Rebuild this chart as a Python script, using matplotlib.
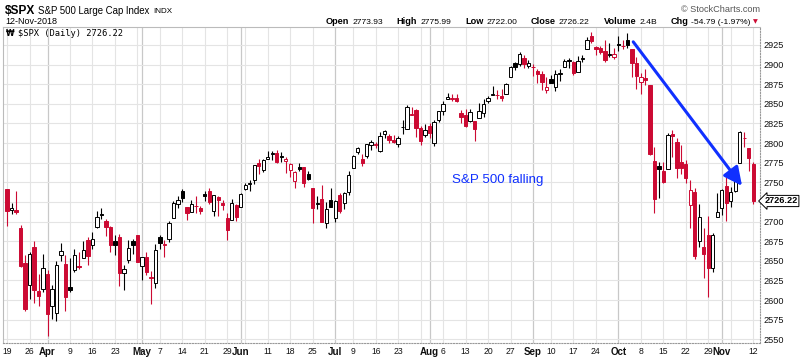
import matplotlib
matplotlib.use("Agg")
import matplotlib.pyplot as plt
import numpy as np
import pandas as pd
from matplotlib.transforms import blended_transform_factory

# ---------------- data ----------------
symbol = "$SPX"
index_name = "S&P 500 Large Cap Index"
exchange = "INDX"
date_text = "12-Nov-2018"
legend_text = "$SPX (Daily) 2726.22"
note_text = "S&P 500 falling"

start_date = "2018-03-19"
end_date = "2018-11-12"
holidays = ["2018-03-30", "2018-05-28", "2018-07-04", "2018-09-03"]
prev_close = 2752.01  # close of the session before the first bar

opens = [
    2741.38, 2715.05, 2714.99, 2691.36, 2646.71, 2619.35, 2667.57, 2611.30, 2614.41,
    2633.45, 2592.17, 2584.04, 2657.36, 2645.82, 2617.18, 2638.41, 2643.69, 2653.83, 2676.90,
    2670.10, 2692.74, 2710.11, 2701.16, 2692.56, 2675.40, 2680.80, 2634.92, 2651.65, 2675.47, 2682.51,
    2642.96, 2654.24, 2628.08, 2621.45, 2680.34, 2670.26, 2678.12, 2705.02, 2722.70, 2738.47, 2718.59,
    2712.62, 2719.71, 2717.35, 2735.39, 2738.34, 2713.98, 2730.94, 2723.60, 2705.11, 2702.43, 2720.98,
    2718.70, 2741.67, 2748.46, 2753.25, 2774.84, 2765.84, 2780.18, 2785.60, 2787.94, 2783.21, 2777.78,
    2765.79, 2752.01, 2769.73, 2769.28, 2760.79, 2742.94, 2722.12, 2728.45, 2698.69, 2727.13,
    2704.95, 2733.27, 2724.19, 2737.68, 2768.51, 2788.56, 2779.82, 2783.14, 2796.93, 2797.36, 2789.34,
    2811.35, 2809.37, 2804.55, 2799.17, 2820.68, 2817.73, 2835.49, 2842.35, 2819.00, 2809.73,
    2821.17, 2800.48, 2829.62, 2840.29, 2855.92, 2856.79, 2857.19, 2838.90, 2835.46, 2827.88, 2827.95,
    2831.44, 2838.32, 2853.93, 2861.51, 2860.99, 2860.29, 2862.35, 2884.69, 2901.45, 2900.62, 2908.94, 2898.37,
    2896.96, 2891.59, 2888.64, 2868.26, 2881.39, 2871.57, 2888.29, 2896.85, 2906.38, 2903.83, 2890.74,
    2906.60, 2919.73, 2936.76, 2921.83, 2921.75, 2916.98, 2911.65, 2910.03,
    2926.29, 2923.80, 2931.69, 2919.35, 2902.54, 2877.53, 2882.51, 2873.90, 2776.87, 2770.54, 2763.83,
    2767.05, 2811.67, 2802.00, 2775.66, 2773.94, 2721.03, 2737.87, 2674.88, 2667.86, 2682.65, 2640.68, 2705.60,
    2717.58, 2745.45, 2726.37, 2738.40, 2774.13, 2806.38, 2794.10, 2773.93,
]
highs = [
    2741.38, 2724.22, 2739.14, 2695.68, 2657.67, 2661.36, 2674.78, 2632.65, 2659.07,
    2638.30, 2619.14, 2649.86, 2672.08, 2656.88, 2653.55, 2665.45, 2661.43, 2674.72, 2680.26,
    2686.49, 2713.34, 2717.49, 2702.84, 2693.94, 2682.86, 2683.55, 2645.30, 2676.48, 2677.35, 2682.87,
    2655.27, 2660.87, 2637.14, 2670.93, 2683.35, 2676.34, 2701.27, 2726.11, 2732.86, 2742.10, 2718.59,
    2727.76, 2731.96, 2719.50, 2739.19, 2742.24, 2733.33, 2731.97, 2727.36, 2710.67, 2729.34, 2722.50,
    2736.93, 2749.16, 2752.61, 2772.39, 2779.90, 2779.39, 2790.21, 2789.80, 2791.47, 2789.06, 2782.81,
    2774.99, 2765.05, 2774.86, 2769.28, 2764.17, 2742.94, 2732.91, 2746.09, 2724.34, 2743.26,
    2727.26, 2736.58, 2737.83, 2764.41, 2784.65, 2795.58, 2785.91, 2799.22, 2804.53, 2801.19, 2814.19,
    2816.76, 2812.05, 2809.70, 2808.61, 2829.99, 2848.03, 2845.57, 2843.17, 2821.74, 2824.46,
    2825.83, 2829.91, 2840.38, 2853.29, 2863.43, 2862.44, 2862.48, 2842.20, 2843.40, 2843.11, 2827.95,
    2850.49, 2855.63, 2859.76, 2873.23, 2867.54, 2868.78, 2876.16, 2898.25, 2903.77, 2916.50, 2912.46, 2906.32,
    2900.18, 2894.21, 2892.05, 2883.81, 2886.93, 2892.52, 2894.65, 2906.76, 2908.30, 2904.65, 2911.17,
    2912.36, 2934.80, 2940.91, 2923.79, 2923.95, 2931.15, 2927.22, 2920.53,
    2937.06, 2931.42, 2939.86, 2919.78, 2909.64, 2889.45, 2894.83, 2874.02, 2795.14, 2775.77, 2775.99,
    2813.46, 2816.94, 2806.04, 2797.77, 2778.94, 2753.59, 2742.59, 2722.70, 2692.38, 2706.85, 2685.43, 2736.69,
    2741.67, 2756.55, 2744.27, 2756.82, 2815.15, 2814.75, 2794.10, 2775.99,
]
lows = [
    2694.59, 2710.05, 2709.79, 2641.59, 2585.89, 2601.81, 2596.12, 2593.06, 2609.72,
    2553.80, 2575.49, 2573.61, 2649.58, 2586.27, 2610.79, 2635.78, 2639.25, 2653.83, 2645.05,
    2665.16, 2692.05, 2703.63, 2681.90, 2660.61, 2657.99, 2617.32, 2612.67, 2647.16, 2659.01, 2648.04,
    2625.41, 2631.70, 2594.62, 2615.32, 2664.70, 2655.20, 2674.14, 2704.54, 2717.45, 2725.47, 2701.91,
    2712.17, 2711.36, 2709.18, 2725.70, 2721.88, 2707.16, 2707.38, 2714.99, 2676.81, 2702.43, 2700.68,
    2718.70, 2740.54, 2739.51, 2748.46, 2760.16, 2763.59, 2780.17, 2778.78, 2774.65, 2776.52, 2761.73,
    2757.12, 2743.19, 2763.91, 2744.39, 2752.68, 2698.67, 2715.60, 2699.38, 2691.99, 2718.03,
    2698.95, 2711.16, 2716.02, 2733.52, 2768.51, 2786.24, 2770.77, 2781.53, 2791.69, 2793.39, 2789.24,
    2805.89, 2799.77, 2800.01, 2795.14, 2811.12, 2817.73, 2835.26, 2808.34, 2798.11, 2808.06,
    2805.85, 2796.34, 2827.37, 2835.98, 2855.92, 2853.09, 2851.98, 2825.81, 2819.88, 2826.58, 2802.49,
    2831.44, 2833.73, 2850.62, 2861.32, 2856.05, 2854.03, 2862.35, 2884.69, 2893.50, 2898.40, 2895.22, 2895.77,
    2885.13, 2876.92, 2867.29, 2864.12, 2875.94, 2866.78, 2879.20, 2896.39, 2895.77, 2886.16, 2890.43,
    2903.82, 2919.73, 2927.11, 2912.63, 2913.70, 2903.28, 2909.27, 2907.50,
    2917.91, 2919.37, 2921.36, 2883.92, 2869.29, 2862.08, 2874.27, 2784.86, 2710.51, 2729.44, 2749.03,
    2766.91, 2781.81, 2755.18, 2760.27, 2749.22, 2691.43, 2651.89, 2667.84, 2628.16, 2603.54, 2635.34, 2705.60,
    2708.85, 2700.44, 2717.94, 2737.08, 2774.13, 2794.99, 2764.24, 2722.00,
]
closes = [
    2712.92, 2716.94, 2711.93, 2643.69, 2588.26, 2658.55, 2612.62, 2605.00, 2640.87,
    2581.88, 2614.45, 2644.69, 2662.84, 2604.47, 2613.16, 2656.87, 2642.19, 2663.99, 2656.30,
    2677.84, 2706.39, 2708.64, 2693.13, 2670.14, 2670.29, 2634.56, 2639.40, 2666.94, 2669.91, 2648.05,
    2654.80, 2635.67, 2629.73, 2663.42, 2672.63, 2671.92, 2697.79, 2723.07, 2727.72, 2730.13, 2711.45,
    2722.46, 2720.13, 2712.97, 2733.01, 2724.44, 2733.29, 2727.76, 2721.33, 2689.86, 2724.01, 2705.27,
    2734.62, 2746.87, 2748.80, 2772.35, 2770.37, 2779.03, 2782.00, 2786.85, 2775.63, 2782.49, 2779.66,
    2773.75, 2762.59, 2767.32, 2749.76, 2754.88, 2717.07, 2723.06, 2699.63, 2716.31, 2718.37,
    2726.71, 2713.22, 2736.61, 2759.82, 2784.17, 2793.84, 2774.02, 2798.29, 2801.31, 2798.43, 2809.55,
    2815.62, 2804.49, 2801.83, 2806.98, 2820.40, 2846.07, 2837.44, 2818.82, 2802.60, 2816.29,
    2813.36, 2827.22, 2840.35, 2850.40, 2858.45, 2857.70, 2853.58, 2833.28, 2821.93, 2839.96, 2818.37,
    2840.69, 2850.13, 2857.05, 2862.96, 2861.82, 2856.98, 2874.69, 2896.74, 2897.52, 2914.04, 2901.13, 2901.52,
    2896.72, 2888.60, 2878.05, 2871.68, 2877.13, 2887.89, 2888.92, 2904.18, 2904.98, 2888.80, 2904.31,
    2907.95, 2930.75, 2929.67, 2919.37, 2915.56, 2905.97, 2914.00, 2913.98,
    2924.59, 2923.43, 2925.51, 2901.61, 2885.57, 2884.43, 2880.34, 2785.68, 2728.37, 2767.13, 2750.79,
    2809.92, 2809.21, 2768.78, 2767.78, 2755.88, 2740.69, 2656.10, 2705.57, 2658.69, 2641.25, 2682.63, 2711.74,
    2740.37, 2723.06, 2738.31, 2755.45, 2813.89, 2806.83, 2781.01, 2726.22,
]

header_labels = ["Open", "High", "Low", "Close", "Volume", "Chg"]
header_values = ["2773.93", "2775.99", "2722.00", "2726.22", "2.4B", "-54.79 (-1.97%)"]

tick_dates = ["2018-03-19", "2018-03-26", "2018-04-02", "2018-04-09", "2018-04-16", "2018-04-23",
              "2018-05-01", "2018-05-07", "2018-05-14", "2018-05-21", "2018-05-29", "2018-06-01",
              "2018-06-11", "2018-06-18", "2018-06-25", "2018-07-02", "2018-07-09", "2018-07-16",
              "2018-07-23", "2018-08-01", "2018-08-06", "2018-08-13", "2018-08-20", "2018-08-27",
              "2018-09-04", "2018-09-10", "2018-09-17", "2018-09-24", "2018-10-01", "2018-10-08",
              "2018-10-15", "2018-10-22", "2018-10-29", "2018-11-01", "2018-11-12"]
tick_labels = ["19", "26", "Apr", "9", "16", "23", "May", "7", "14", "21", "29", "Jun",
               "11", "18", "25", "Jul", "9", "16", "23", "Aug", "6", "13", "20", "27",
               "Sep", "10", "17", "24", "Oct", "8", "15", "22", "29", "Nov", "12"]
month_labels = {"Apr", "May", "Jun", "Jul", "Aug", "Sep", "Oct", "Nov"}
y_ticks = list(range(2550, 2926, 25))

# annotation placement (index units, price units)
arrow_start = (139.3, 2929.0)
arrow_end = (163.5, 2745.5)
note_pos = (109.2, 2753.0)

# ---------------- styling ----------------
RED = "#CC0A33"
BLACK = "#000000"
BLUE = "#1030FF"
GRID = "#E4E4E4"
GRID_M = "#C8C8C8"
FONT = "Liberation Sans"
plt.rcParams["font.family"] = [FONT, "DejaVu Sans"]

W, H = 800, 358
fig = plt.figure(figsize=(W / 100, H / 100), dpi=100)
fig.patch.set_facecolor("white")


def fx(px):
    return px / W


def fy(py):
    return 1 - py / H


ax = fig.add_axes([fx(3), fy(343), fx(757), (343 - 27) / H])

dates = pd.bdate_range(start_date, end_date)
dates = dates[~dates.isin(pd.to_datetime(holidays))]
n = len(dates)
x = np.arange(n)
o = np.array(opens); h = np.array(highs); l = np.array(lows); c = np.array(closes)
pc = np.concatenate([[prev_close], c[:-1]])

edge = np.where(c >= pc, BLACK, RED)
face = np.where(c > o, "white", edge)

# gridlines
wk = dates.isocalendar().week.values
mo = dates.month.values
week_start = [i for i in range(n) if i == 0 or wk[i] != wk[i - 1]]
month_start = [i for i in range(1, n) if mo[i] != mo[i - 1]]
for i in week_start:
    if i not in month_start:
        ax.axvline(i, color=GRID, lw=0.8, zorder=0)
for i in month_start:
    ax.axvline(i, color=GRID_M, lw=0.9, zorder=0)
for yv in y_ticks:
    ax.axhline(yv, color=GRID, lw=0.8, zorder=0)

# candles
ax.vlines(x, l, h, colors=edge, lw=0.8, zorder=2)
ax.bar(x, np.maximum(np.abs(c - o), 0.3), bottom=np.minimum(o, c), width=0.74,
       color=face, edgecolor=edge, linewidth=0.7, zorder=3)

ax.set_xlim(-0.9, 167.5)
ax.set_ylim(2545.3, 2947.9)

# x ticks
idx_map = {d.strftime("%Y-%m-%d"): i for i, d in enumerate(dates)}
ax.set_xticks([idx_map[d] for d in tick_dates])
ax.set_xticklabels(tick_labels)
for lab in ax.get_xticklabels():
    if lab.get_text() in month_labels:
        lab.set_fontweight("bold")
        lab.set_fontsize(7)
    else:
        lab.set_fontsize(6.2)
ax.tick_params(axis="x", length=0, pad=3, colors="#111111")

# y ticks (right)
ax.yaxis.tick_right()
ax.set_yticks(y_ticks)
ax.set_yticklabels(["" if v == 2725 else str(v) for v in y_ticks])
ax.tick_params(axis="y", length=0, pad=2.5, labelsize=6.6, colors="#111111")

for s in ["top", "left"]:
    ax.spines[s].set_color("#BBBBBB")
    ax.spines[s].set_linewidth(0.8)
for s in ["bottom", "right"]:
    ax.spines[s].set_color("#999999")
    ax.spines[s].set_linewidth(0.8)
    ax.spines[s].set_linestyle((0, (1, 1.5)))

# legend inside plot
ax.text(3 / 757, 1 - 7 / 316, "\u20a9", transform=ax.transAxes, fontsize=5.6, fontweight="bold",
        va="center", ha="left", family="DejaVu Sans", zorder=6)
ax.text(15 / 757, 1 - 7 / 316, legend_text, transform=ax.transAxes, fontsize=6.3,
        va="center", ha="left", family="DejaVu Sans Mono", zorder=6)

# last price tag
tr = blended_transform_factory(ax.transAxes, ax.transData)
ax.text(1.006, c[-1], f"{c[-1]:.2f}", transform=tr, fontsize=6.6, fontweight="bold",
        va="center", ha="left", clip_on=False, zorder=7,
        bbox=dict(boxstyle="larrow,pad=0.12", fc="white", ec="black", lw=0.7))

# annotation
ax.annotate("", xy=arrow_end, xytext=arrow_start,
            arrowprops=dict(arrowstyle="-|>,head_length=0.65,head_width=0.32", color=BLUE,
                            lw=2.2, mutation_scale=17, shrinkA=0, shrinkB=0), zorder=8)
ax.text(note_pos[0], note_pos[1], note_text, color=BLUE, fontsize=9.6, ha="center", va="center",
        zorder=8)

# header
fig.text(fx(5), fy(11), symbol, fontsize=8.6, fontweight="bold", va="center")
fig.text(fx(38), fy(11.5), index_name, fontsize=6.9, va="center")
fig.text(fx(153), fy(11.5), exchange, fontsize=5.8, va="center")
fig.text(fx(5), fy(22), date_text, fontsize=6.5, va="center")
fig.text(fx(760), fy(9), "\u00a9 StockCharts.com", fontsize=6.6, va="center", ha="right",
         color="#555555")

# quote row: lay out label/value pairs between x=326 and x=751 px
renderer = fig.canvas.get_renderer()
pairs = []
for lb, vl in zip(header_labels, header_values):
    t1 = fig.text(0, fy(22), lb, fontsize=6.6, fontweight="bold", va="center")
    t2 = fig.text(0, fy(22), vl, fontsize=6.1, va="center")
    pairs.append((t1, t2, t1.get_window_extent(renderer).width,
                  t2.get_window_extent(renderer).width))
inner = 3.0
total = sum(w1 + w2 + inner for _, _, w1, w2 in pairs)
gap = (751 - 326 - total) / (len(pairs) - 1)
cur = 326.0
for t1, t2, w1, w2 in pairs:
    t1.set_x(fx(cur))
    t2.set_x(fx(cur + w1 + inner))
    cur += w1 + inner + w2 + gap
fig.text(fx(753), fy(21.5), "\u25bc", fontsize=4.5, color=RED, va="center", family="DejaVu Sans")

fig.savefig("out.png", dpi=100, facecolor="white")
